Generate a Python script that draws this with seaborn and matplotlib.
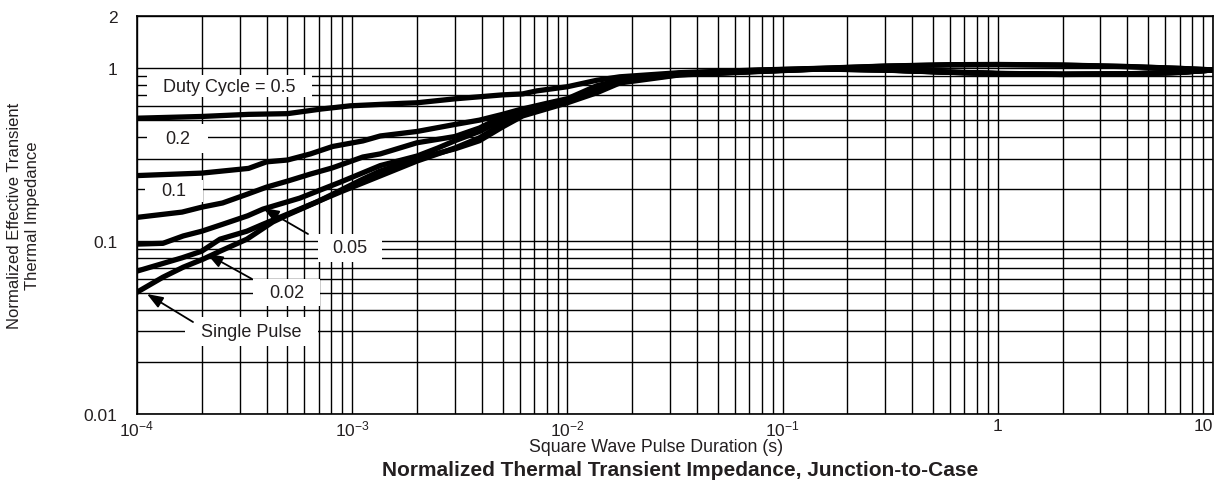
import numpy as np
import pandas as pd
import matplotlib
matplotlib.use("Agg")
import matplotlib.pyplot as plt
import seaborn as sns
from matplotlib.ticker import FixedLocator, NullFormatter
from matplotlib.patches import Rectangle

# ---------------- data ----------------
duty_labels = ["0.5", "0.2", "0.1", "0.05", "0.02", "Single"]

tail_t = [0.033, 0.078, 0.15, 0.3, 0.6, 1, 2, 4, 7, 10]

t_d05 = [1e-4, 2e-4, 3.3e-4, 5e-4, 7.2e-4, 9.8e-4, 1.7e-3, 2e-3, 3e-3, 5e-3, 6.2e-3, 7.2e-3, 1e-2, 1.37e-2, 1.75e-2] + tail_t
z_d05 = [0.513, 0.525, 0.540, 0.545, 0.580, 0.605, 0.625, 0.630, 0.664, 0.700, 0.709, 0.738, 0.780, 0.850, 0.890,
         0.940, 0.975, 0.997, 1.027, 1.046, 1.049, 1.041, 1.021, 0.996, 0.976]

t_d02 = [1e-4, 2e-4, 3.3e-4, 4e-4, 5e-4, 6.4e-4, 8.1e-4, 1.12e-3, 1.35e-3, 2e-3, 3e-3, 3.9e-3, 5e-3, 6e-3, 8e-3, 1e-2, 1.37e-2, 1.75e-2] + tail_t
z_d02 = [0.239, 0.247, 0.263, 0.287, 0.294, 0.319, 0.352, 0.379, 0.405, 0.430, 0.472, 0.500, 0.540, 0.575, 0.625, 0.665, 0.790, 0.850,
         0.932, 0.972, 0.995, 1.025, 1.044, 1.047, 1.039, 1.019, 0.995, 0.975]

t_d01 = [1e-4, 1.62e-4, 2e-4, 2.5e-4, 3.27e-4, 4e-4, 5e-4, 6.4e-4, 8.1e-4, 1.12e-3, 1.35e-3, 2e-3, 3e-3, 3.9e-3, 5e-3, 6e-3, 8.9e-3, 1.03e-2, 1.37e-2, 1.75e-2] + tail_t
z_d01 = [0.137, 0.147, 0.157, 0.166, 0.187, 0.205, 0.222, 0.244, 0.265, 0.306, 0.319, 0.370, 0.402, 0.450, 0.525, 0.565, 0.638, 0.655, 0.745, 0.840,
         0.920, 0.962, 0.990, 0.977, 0.948, 0.932, 0.922, 0.927, 0.946, 0.975]

t_d005 = [1e-4, 1.32e-4, 1.64e-4, 2e-4, 2.5e-4, 3.27e-4, 3.85e-4, 5.7e-4, 8.8e-4, 1.35e-3, 2e-3, 2.5e-3, 3e-3, 3.9e-3, 5e-3, 6.2e-3, 1e-2, 1.37e-2, 1.75e-2] + tail_t
z_d005 = [0.096, 0.097, 0.107, 0.114, 0.125, 0.140, 0.153, 0.177, 0.219, 0.273, 0.310, 0.345, 0.380, 0.430, 0.500, 0.560, 0.650, 0.755, 0.850,
          0.918, 0.960, 0.989, 0.975, 0.946, 0.930, 0.920, 0.925, 0.945, 0.975]

t_d002 = [1e-4, 1.62e-4, 2e-4, 2.43e-4, 3.24e-4, 3.85e-4, 5.7e-4, 8.8e-4, 1.35e-3, 2e-3, 3e-3, 3.9e-3, 5e-3, 6.2e-3, 1e-2, 1.37e-2, 1.75e-2] + tail_t
z_d002 = [0.067, 0.080, 0.0874, 0.1025, 0.114, 0.125, 0.153, 0.192, 0.238, 0.290, 0.345, 0.395, 0.475, 0.545, 0.640, 0.745, 0.840,
          0.915, 0.958, 0.988, 0.974, 0.945, 0.929, 0.919, 0.924, 0.944, 0.975]

t_single = [1e-4, 1.32e-4, 1.64e-4, 2.03e-4, 2.43e-4, 3.24e-4, 4.28e-4, 5.1e-4, 6.85e-4, 8.5e-4, 1.12e-3, 1.35e-3, 2e-3, 3e-3, 3.9e-3, 5e-3, 6.2e-3, 1e-2, 1.37e-2, 1.75e-2] + tail_t
z_single = [0.0506, 0.0618, 0.0706, 0.0786, 0.0873, 0.1025, 0.129, 0.143, 0.168, 0.192, 0.228, 0.254, 0.299, 0.341, 0.380, 0.457, 0.529, 0.630, 0.720, 0.820,
            0.912, 0.955, 0.987, 0.973, 0.944, 0.928, 0.918, 0.923, 0.943, 0.975]

x_tick_values = [1e-4, 1e-3, 1e-2, 1e-1, 1, 10]
x_tick_labels = ["$10^{-4}$", "$10^{-3}$", "$10^{-2}$", "$10^{-1}$", "1", "10"]
y_tick_values = [0.01, 0.1, 1, 2]
y_tick_labels = ["0.01", "0.1", "1", "2"]

series_t = [t_d05, t_d02, t_d01, t_d005, t_d002, t_single]
series_z = [z_d05, z_d02, z_d01, z_d005, z_d002, z_single]

df = pd.concat(
    [pd.DataFrame({"t": t, "z": z, "duty": lab}) for t, z, lab in zip(series_t, series_z, duty_labels)],
    ignore_index=True,
)

# ---------------- style ----------------
sns.set_theme(style="white")
plt.rcParams["font.family"] = ["Liberation Sans", "DejaVu Sans"]
plt.rcParams["mathtext.fontset"] = "custom"
plt.rcParams["mathtext.rm"] = "Liberation Sans"
plt.rcParams["mathtext.it"] = "Liberation Sans:italic"
plt.rcParams["mathtext.bf"] = "Liberation Sans:bold"

TXT = "#231f20"
W, H = 1216, 489
L, R, T, B = 137, 1213, 17, 415

fig = plt.figure(figsize=(W / 100, H / 100), dpi=100)
ax = fig.add_axes([L / W, 1 - B / H, (R - L) / W, (B - T) / H])

sns.lineplot(
    data=df, x="t", y="z", hue="duty", palette={k: "black" for k in duty_labels},
    estimator=None, sort=False, linewidth=3.8, legend=False, ax=ax, zorder=2,
)

ax.set_xscale("log")
ax.set_yscale("log")
ax.set_xlim(1e-4, 10)
ax.set_ylim(0.01, 2)

x_minor = [k * 10.0 ** e for e in range(-4, 1) for k in range(2, 10)]
y_minor = [k * 10.0 ** e for e in range(-2, 0) for k in range(2, 10)]
ax.set_xticks(x_tick_values)
ax.set_xticklabels(x_tick_labels)
ax.set_yticks(y_tick_values)
ax.set_yticklabels(y_tick_labels)
ax.xaxis.set_minor_locator(FixedLocator(x_minor))
ax.yaxis.set_minor_locator(FixedLocator(y_minor))
ax.xaxis.set_minor_formatter(NullFormatter())
ax.yaxis.set_minor_formatter(NullFormatter())
ax.tick_params(which="both", length=0, labelsize=12.5, labelcolor=TXT)
ax.tick_params(axis="y", pad=14)
ax.tick_params(axis="x", pad=3)
ax.get_xticklabels()[-1].set_horizontalalignment("right")

ax.set_axisbelow(True)
ax.grid(True, which="both", color="black", linewidth=1.0)
for s in ax.spines.values():
    s.set_color("black")
    s.set_linewidth(1.2)
ax.set_xlabel("")
ax.set_ylabel("")


def frac(px, py):
    return ((px - L) / (R - L), (B - py) / (B - T))


def label_box(text, x0, x1, y0, y1):
    fx0, fy1 = frac(x0, y0)
    fx1, fy0 = frac(x1, y1)
    ax.add_patch(Rectangle((fx0, fy0), fx1 - fx0, fy1 - fy0, transform=ax.transAxes,
                           facecolor="white", edgecolor="none", zorder=1))
    cx, cy = frac((x0 + x1) / 2, (y0 + y1) / 2)
    ax.text(cx, cy, text, transform=ax.transAxes, ha="center", va="center",
            fontsize=13, color=TXT, zorder=3)


label_box("Duty Cycle = 0.5", 147, 312, 76, 98)
label_box("0.2", 147, 208, 125, 154)
label_box("0.1", 145, 203, 181, 203)
label_box("0.05", 318, 382, 235, 263)
label_box("0.02", 253, 320, 280, 307)
label_box("Single Pulse", 185, 318, 318, 347)


def arrow(tail, tip):
    ax.annotate("", xy=frac(*tip), xytext=frac(*tail), xycoords="axes fraction",
                textcoords="axes fraction",
                arrowprops=dict(arrowstyle="-|>,head_length=0.8,head_width=0.3", color="black",
                                lw=1.3, shrinkA=0, shrinkB=0, mutation_scale=12), zorder=3)


arrow((308, 235), (263, 209))
arrow((252, 280), (207, 255))
arrow((193, 323), (147, 295))

fig.text(23.5 / W, 1 - 216 / H, "Normalized Effective Transient\nThermal Impedance",
         rotation=90, ha="center", va="center", multialignment="center", fontsize=12, color=TXT)
fig.text(656 / W, 1 - 447 / H, "Square Wave Pulse Duration (s)", ha="center", va="center",
         fontsize=12.8, color=TXT)
fig.text(680 / W, 1 - 471 / H, "Normalized Thermal Transient Impedance, Junction-to-Case",
         ha="center", va="center", fontsize=15, fontweight="bold", color=TXT)

fig.savefig("out.png", dpi=100)
